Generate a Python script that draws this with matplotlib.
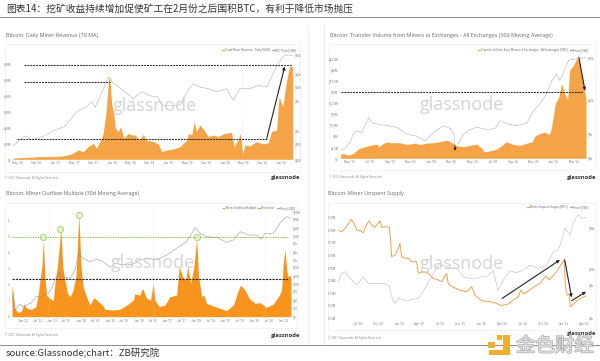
import matplotlib
matplotlib.use("Agg")
import matplotlib.pyplot as plt
import matplotlib.patheffects as pe
from matplotlib.lines import Line2D
from matplotlib.patches import Rectangle

# chart 1: months since May 2016, revenue in $M, price in USD
rev_months = [-0.85, 2, 4.8, 7.6, 9.8, 11.5, 12.9, 14, 15, 16.1, 16.8, 17.5, 18.2, 18.8, 19.3, 19.6, 20, 20.4, 20.8, 21.4, 21.9, 22.6, 23.5, 24.2, 24.9, 26, 26.7, 27.4, 28.8, 29.9, 30.6, 31.7, 33.1, 34.5, 35.9, 36.3, 37, 37.5, 38, 38.7, 39.6, 40.5, 41.6, 42.6, 44, 45.4, 46, 46.9, 47.3, 47.8, 48.3, 49.3, 50.7, 52.2, 53.2, 53.9, 55, 55.5, 56.3, 57, 57.7, 58.4]
rev_values = [0.8, 1.2, 1.7, 1.7, 2.1, 3.3, 5.8, 4.8, 7.9, 10, 6.9, 11, 16.2, 28.8, 47.5, 52.7, 35, 28.8, 19.4, 17.3, 20.4, 13.1, 16.2, 15.2, 15.2, 12, 15.6, 12, 11, 9.6, 4.8, 5.8, 6.5, 7.9, 12, 16.2, 15.2, 23.5, 17.3, 21.5, 18.3, 14.2, 15.2, 14.2, 16.2, 16.7, 7.9, 13.1, 16.2, 3.75, 9, 8.3, 11, 9.6, 10.4, 17.3, 18.3, 39.2, 32.9, 47.5, 57.9, 57.9]
rev_price_months = [-0.85, 0.2, 1.6, 3, 5.5, 8, 10.1, 12.6, 14.7, 15.8, 16.5, 17.9, 19.3, 20.4, 21.1, 22.8, 24.6, 26.4, 28.2, 29.9, 30.6, 32.4, 34.5, 35.9, 37.3, 38.7, 40.5, 42.3, 44.4, 45.4, 45.8, 47.2, 49.3, 51.1, 52.9, 53.9, 55.3, 56.7, 58.4]
rev_price = [450, 564, 761, 617, 736, 1040, 1250, 2730, 3550, 4600, 3440, 7330, 17000, 12000, 11000, 7770, 5470, 7770, 6270, 5900, 3900, 3700, 3900, 7330, 12000, 10000, 9200, 7770, 9200, 5900, 5000, 9200, 9200, 11000, 10000, 17000, 35000, 54000, 54000]
rev_levels = [59, 48, 12.5]
rev_level_starts = [1.4, 1.4, 0]
rev_level_ends = [58.2, 19.6, 52.9]
rev_arrow = [52.9, 13.1, 56.7, 57.9]
rev_ticks = [0, 4, 8, 12, 16, 20, 24, 28, 32, 36, 40, 44, 48, 52, 56]
rev_tick_labels = ["May '16", "Sep '16", "Jan '17", "May '17", "Sep '17", "Jan '18", "May '18", "Sep '18", "Jan '19", "May '19", "Sep '19", "Jan '20", "May '20", "Sep '20", "Jan '21"]
rev_yticks = [0, 10, 20, 30, 40, 50, 60]
rev_ylabels = ["$0", "$10M", "$20M", "$30M", "$40M", "$50M", "$60M"]
rev_pticks = [220, 500, 1000, 5000, 10000, 20000, 55000]
rev_plabels = ["$200", "$500", "$1k", "$5k", "$10k", "$20k", "$55k"]

# chart 2: months since May 2019, transfer volume in $M, price in USD
vol_months = [-0.85, -0.42, -0.1, 0.39, 0.88, 1.37, 2.03, 2.75, 2.88, 3.33, 3.92, 4.05, 4.97, 5.62, 6.44, 6.93, 7.58, 8.24, 9.05, 9.54, 10, 10.5, 11.2, 11.8, 12.5, 13, 13.2, 13.8, 14.4, 14.9, 15.4, 16.1, 16.7, 17.4, 17.9, 18.2, 18.7, 19.2, 19.6, 19.8, 20.2, 20.5, 20.8, 21.1, 21.4, 21.6, 22, 22.3, 22.5, 22.9, 23.2]
vol_values = [1, 1, 0.67, 1.1, 2.1, 2.5, 2.9, 3.2, 2.5, 3.4, 3.7, 3.5, 3.5, 3.1, 3.4, 3.1, 3.4, 3.5, 3.8, 4.1, 3.6, 2.8, 2.6, 2.9, 3.2, 2.2, 1.4, 1.7, 2, 2.8, 3.7, 3.1, 2.9, 3.4, 3.7, 5, 5.6, 5.9, 5.3, 6.7, 12.4, 13.5, 16.8, 14.6, 13.1, 19.8, 21, 22.5, 22.1, 17.6, 13.1]
vol_price_months = [-0.85, -0.42, 0.07, 0.39, 0.72, 1.2, 1.86, 2.35, 3, 3.82, 4.64, 5.62, 6.6, 7.42, 8.24, 9.2, 9.87, 10.26, 10.4, 10.7, 11.2, 11.8, 12.5, 13.5, 14.3, 14.8, 15.6, 16.4, 17.4, 18, 18.7, 19.3, 19.8, 20.3, 20.65, 21, 21.5, 22.3, 23.2]
vol_price = [5270, 5500, 6500, 8000, 8730, 8350, 12200, 10700, 10300, 10000, 9600, 8000, 7600, 6700, 8350, 10000, 9300, 8000, 4600, 6300, 8000, 9000, 9600, 9000, 9300, 11400, 10400, 10000, 10700, 14400, 18000, 23000, 32000, 39000, 33000, 41000, 56000, 58500, 60000]
vol_level = 15
vol_arrow = [22.5, 22.7, 23.1, 15.2]
vol_small_arrow = [10.36, 3, 10.36, 1.7]
vol_ticks = [0, 2, 4, 6, 8, 10, 12, 14, 16, 18, 20, 22]
vol_tick_labels = ["May '19", "Jul '19", "Sep '19", "Nov '19", "Jan '20", "Mar '20", "May '20", "Jul '20", "Sep '20", "Nov '20", "Jan '21", "Mar '21"]
vol_yticks = [0, 2.5, 5, 7.5, 10, 12.5, 15, 17.5, 20, 22.5]
vol_ylabels = ["$0", "$2.5M", "$5M", "$7.5M", "$10M", "$12.5M", "$15M", "$17.5M", "$20M", "$22.5M"]
vol_pticks = [4300, 8000, 20000, 60000]
vol_plabels = ["$4k", "$8k", "$20k", "$60k"]

# chart 3: months since Jan 2012, outflow multiple, price in USD
mom_months = [-4.4, -3.9, -3.2, -1.8, -0.4, 0.55, 1.7, 3.7, 5.5, 6.5, 7.2, 8, 8.6, 9.25, 9.9, 11.3, 12.7, 13.4, 14.4, 15.2, 15.9, 16.6, 17.5, 18.6, 19.6, 20.7, 22.1, 22.7, 23.3, 24.2, 25.1, 26.2, 27.9, 29.6, 31.4, 33.1, 34.1, 37.6, 40.3, 43.8, 45.9, 46.5, 48.6, 49.7, 51.4, 53, 54.1, 54.8, 56.6, 59, 61, 63.8, 64.9, 66.3, 67.7, 68.4, 69.6, 71, 72.1, 72.9, 74.2, 75.1, 76.2, 79, 81.8, 84.5, 87.3, 89.4, 90.3, 92.1, 93.9, 96.3, 98.3, 101, 103.9, 106.4, 107.3, 108, 108.7, 109.4, 110, 110.8, 111.2]
mom_values = [1.98, 1.46, 0.52, 0.25, 0.38, 0.79, 0.52, 0.46, 0.63, 1.46, 2.29, 3.13, 4.79, 2.5, 1.35, 1.15, 1, 2.08, 3.13, 4.38, 5.42, 3.13, 2.29, 1.46, 1.25, 1.56, 2.5, 4.38, 6.35, 3.13, 1.88, 1.35, 0.73, 1.21, 0.94, 0.73, 0.46, 0.42, 0.46, 0.79, 1.04, 1.42, 1.35, 1.77, 1.15, 1.04, 2.08, 1.04, 0.63, 0.73, 1.25, 1.35, 3.13, 2.5, 2.29, 3.17, 2.08, 3.13, 4.9, 2.5, 1.25, 1.35, 0.83, 0.67, 0.52, 0.38, 0.73, 1.67, 1.98, 1.67, 1.15, 0.83, 0.88, 0.58, 0.79, 1.35, 1.67, 3.33, 4.21, 2.92, 2.5, 2.6, 2.29]
mom_price_months = [-4.4, -3.2, -1.1, 0, 3.7, 5.5, 7.9, 10.6, 12, 13.4, 15.2, 16.9, 19.6, 21.7, 23.2, 25.1, 27.9, 30.7, 33.4, 36.2, 38.3, 41.7, 45.9, 48.6, 52.1, 55.5, 59.7, 63.8, 68, 71.5, 73.5, 76.2, 80.4, 84.5, 87.3, 90.1, 93.5, 97, 98.8, 100.4, 103.9, 106.6, 109.4, 111.2]
mom_price = [33, 7.7, 13.7, 10.7, 15.7, 28, 28, 38, 62, 138, 308, 190, 162, 360, 1770, 1090, 800, 1000, 800, 465, 690, 585, 640, 950, 1090, 950, 1500, 2880, 5470, 20800, 12100, 8800, 8200, 5100, 6400, 14200, 10300, 10300, 6800, 12100, 12100, 31600, 60000, 51000]
mom_level = 2.33
mom_threshold = 4.96
mom_circle_months = [8.6, 15.6, 23.3, 72.1]
mom_circle_values = [5, 5.5, 6.33, 5]
mom_halvings = [11, 54.1, 100.4]
mom_ticks = [0, 6, 12, 18, 24, 30, 36, 42, 48, 54, 60, 66, 72, 78, 84, 90, 96, 102, 108]
mom_tick_labels = ["Jan '12", "Jul '12", "Jan '13", "Jul '13", "Jan '14", "Jul '14", "Jan '15", "Jul '15", "Jan '16", "Jul '16", "Jan '17", "Jul '17", "Jan '18", "Jul '18", "Jan '19", "Jul '19", "Jan '20", "Jul '20", "Jan '21"]
mom_yticks = [0, 1, 2, 3, 4, 5, 6]
mom_ylabels = ["0", "1", "2", "3", "4", "5", "6"]
mom_pticks = [4.2, 10, 20, 50, 100, 200, 500, 1000, 2000, 5000, 10000, 20000, 50000, 100000]
mom_plabels = ["$4", "$10", "$20", "$50", "$100", "$200", "$500", "$1k", "$2k", "$5k", "$10k", "$20k", "$50k", "$100k"]

# chart 4: months since Jul 2018, unspent supply in M BTC, price in USD
sup_months = [-2.77, -2.28, -1.8, -1.31, -0.92, -0.58, -0.1, 0.39, 0.87, 1.21, 1.7, 2.09, 2.57, 3.3, 3.54, 4.03, 4.66, 4.85, 5, 5.49, 5.97, 6.21, 6.46, 6.94, 7.43, 7.91, 8.64, 8.88, 9.61, 10.34, 11.07, 11.8, 12.28, 13, 13.25, 13.98, 14.95, 15.92, 16.65, 17.14, 18.1, 19.32, 20.29, 21.02, 21.99, 22.72, 23.45, 23.79, 24.27, 25.63, 26.6, 27.43, 27.96, 29.03, 30.15, 30.29, 30.58, 30.87, 31.02, 31.7, 32.43, 33.25]
sup_values = [1.7797, 1.7789, 1.7815, 1.785, 1.7887, 1.7868, 1.7802, 1.7797, 1.7781, 1.7828, 1.7876, 1.7842, 1.7823, 1.7876, 1.7823, 1.7828, 1.7823, 1.7723, 1.759, 1.7603, 1.7656, 1.7696, 1.759, 1.7577, 1.7577, 1.755, 1.755, 1.7458, 1.7471, 1.7458, 1.7418, 1.7405, 1.7391, 1.7458, 1.7373, 1.7346, 1.7325, 1.7312, 1.7352, 1.7285, 1.724, 1.7232, 1.7219, 1.7201, 1.7214, 1.7246, 1.7272, 1.7325, 1.7293, 1.7346, 1.7378, 1.7436, 1.7405, 1.7471, 1.7569, 1.7352, 1.7285, 1.7293, 1.7193, 1.7225, 1.7259, 1.7277]
sup_price_months = [-2.77, -2.28, -1.8, -1.07, -0.1, 0.87, 1.6, 2.57, 4.03, 4.66, 5, 5.49, 5.97, 7.18, 8.88, 9.85, 10.83, 11.8, 12.52, 13.5, 14.47, 15.44, 16.4, 17.4, 18.1, 18.83, 19.8, 20.49, 21.26, 22.23, 23.2, 24.17, 25.15, 26.36, 27.57, 28.54, 29.27, 29.76, 30.24, 30.97, 31.46, 32.18, 32.67, 33.3]
sup_price = [6570, 8670, 9150, 7340, 5900, 7760, 6210, 6210, 6080, 5690, 3990, 3200, 3780, 3490, 3780, 5260, 7760, 11400, 11400, 10240, 10240, 7760, 7340, 7340, 7760, 7760, 9460, 4880, 6950, 9460, 8850, 9670, 11400, 10240, 11400, 17800, 18800, 26200, 38700, 31000, 48200, 60400, 53900, 55700]
sup_arrows = [[21.1, 1.7259, 29.5, 1.7564], [30.2, 1.7564, 31.2, 1.7267], [31.2, 1.7240, 33.3, 1.7312]]
sup_ticks = [0, 3, 6, 9, 12, 15, 18, 21, 24, 27, 30, 33]
sup_tick_labels = ["Jul '18", "Oct '18", "Jan '19", "Apr '19", "Jul '19", "Oct '19", "Jan '20", "Apr '20", "Jul '20", "Oct '20", "Jan '21", "Apr '21"]
sup_yticks = [1.71, 1.72, 1.73, 1.74, 1.75, 1.76, 1.77, 1.78, 1.79]
sup_ylabels = ["1.71M", "1.72M", "1.73M", "1.74M", "1.75M", "1.76M", "1.77M", "1.78M", "1.79M"]
sup_pticks = [2000, 6000, 10000, 40000]
sup_plabels = ["$2k", "$6k", "$10k", "$40k"]

W, H = 600, 361
ORANGE = "#F5A347"
DEEP_ORANGE = "#F7941D"
GREY = "#A6A6A6"
plt.rcParams["font.family"] = ["Noto Sans CJK SC", "DejaVu Sans"]

fig = plt.figure(figsize=(W / 100, H / 100), dpi=100, facecolor="white")


def frac(x, y):
    return x / W, 1 - y / H


def hline(x0, x1, y, color, lw):
    fig.add_artist(Line2D([x0 / W, x1 / W], [1 - y / H, 1 - y / H], color=color, lw=lw))


def vline(x, y0, y1, color, lw):
    fig.add_artist(Line2D([x / W, x / W], [1 - y0 / H, 1 - y1 / H], color=color, lw=lw))


def box(x0, y0, x1, y1, **kw):
    fig.add_artist(Rectangle((x0 / W, 1 - y1 / H), (x1 - x0) / W, (y1 - y0) / H, transform=fig.transFigure, **kw))


def make_panel(frame, rect, title, xlim, ylim, plim, ticks, tick_labels, yticks, ylabels, pticks, plabels):
    box(frame[0], frame[1], frame[2], frame[3], facecolor="white", edgecolor="#EFEFEF", lw=0.5, zorder=-1)
    fig.text(*frac(frame[0] + 0.5, frame[1] - 9), title, fontsize=3.9, color="#666666", family="Open Sans", va="center")
    x0, y0, x1, y1 = rect
    ax = fig.add_axes([x0 / W, 1 - y1 / H, (x1 - x0) / W, (y1 - y0) / H], facecolor="none")
    ax.set_xlim(xlim)
    ax.set_ylim(ylim)
    ax.set_xticks(ticks, tick_labels)
    ax.set_yticks(yticks, ylabels)
    ax.tick_params(length=0, pad=1.5, labelsize=2.2, labelcolor="#777777")
    for s in ax.spines.values():
        s.set_visible(False)
    ax2 = ax.twinx()
    ax2.set_yscale("log")
    ax2.set_ylim(plim)
    ax2.set_yticks(pticks, plabels)
    ax2.minorticks_off()
    ax2.tick_params(length=0, pad=1.5, labelsize=2.2, labelcolor="#777777")
    for s in ax2.spines.values():
        s.set_visible(False)
    return ax, ax2


def watermark(x, y):
    fig.text(*frac(x, y), "glassnode", fontsize=13, color="#C9C9C9", alpha=0.8, family="Open Sans", ha="center", va="center", zorder=20)


def footer(x0, x1, y, logo_y=None):
    fig.text(*frac(x0, y), "© 2021 Glassnode. All Rights Reserved.", fontsize=2.2, color="#888888", family="Open Sans", va="center")
    fig.text(*frac(x1, logo_y or y), "glassnode", fontsize=4.2, color="#333333", family="Open Sans", weight="bold", ha="right", va="center")


def legend(x, y, items):
    handles = [Line2D([], [], color=c, lw=0.9) for c, _ in items]
    fig.legend(handles, [t for _, t in items], loc="upper right", bbox_to_anchor=frac(x, y), ncol=len(items),
               fontsize=2.1, frameon=False, handlelength=0.6, columnspacing=0.8, handletextpad=0.4, borderpad=0, labelcolor="#666666")


def arrow(ax, a, lw=0.8):
    ax.annotate("", xy=(a[2], a[3]), xytext=(a[0], a[1]),
                arrowprops=dict(arrowstyle="-|>", color="#222222", lw=lw, mutation_scale=4, shrinkA=0, shrinkB=0), zorder=12)


# header and footer rules
fig.text(*frac(6, 9), "图表14：挖矿收益持续增加促使矿工在2月份之后围积BTC，有利于降低市场抛压", fontsize=7, color="#333333", va="center")
hline(0, 600, 17, "#8E8E8E", 0.7)
vline(308, 25, 345, "#EEEEEE", 0.6)
vline(324, 25, 345, "#E6E6E6", 0.6)

# chart 1
ax, ax2 = make_panel((5, 44, 300, 172), (13.3, 50, 292.7, 159.3), "Bitcoin: Daily Miner Revenue (7d MA)",
                     (-0.85, 58.4), (0, 68.3), (223, 71000), rev_ticks, rev_tick_labels, rev_yticks, rev_ylabels, rev_pticks, rev_plabels)
ax.axvline(47.6, color="#D8D8D8", lw=0.4, ls=":")
ax.fill_between(rev_months, rev_values, 0, color=ORANGE, lw=0)
ax2.plot(rev_price_months, rev_price, color=GREY, lw=0.35)
ax.set_zorder(ax2.get_zorder() + 1)
for lvl, a, b in zip(rev_levels, rev_level_starts, rev_level_ends):
    ax.plot([a, b], [lvl, lvl], color="#222222", lw=0.7, ls=(0, (2, 1)), zorder=10)
arrow(ax, rev_arrow)
legend(298, 47, [(ORANGE, "Total Miner Revenue - Daily [USD]"), (GREY, "BTC Price [USD]")])
watermark(155, 106)
footer(5, 300, 178)

# chart 2
ax, ax2 = make_panel((329, 44, 596, 170), (340.7, 53.3, 586, 158.3), "Bitcoin: Transfer Volume from Miners to Exchanges - All Exchanges (30d Moving Average)",
                     (-0.85, 23.2), (0, 23.6), (4230, 67500), vol_ticks, vol_tick_labels, vol_yticks, vol_ylabels, vol_pticks, vol_plabels)
ax.fill_between(vol_months, vol_values, 0, color=ORANGE, lw=0)
ax2.plot(vol_price_months, vol_price, color=GREY, lw=0.35)
ax.set_zorder(ax2.get_zorder() + 1)
ax.plot([-0.85, 22.9], [vol_level, vol_level], color="#222222", lw=0.7, ls=(0, (2, 1)), zorder=10)
arrow(ax, vol_arrow)
arrow(ax, vol_small_arrow, lw=0.5)
legend(590, 47, [(ORANGE, "Transfer Volume from Miners to Exchanges - All Exchanges [USD]"), (GREY, "Price [USD]")])
watermark(462, 105)
footer(329, 596, 177)

# chart 3
ax, ax2 = make_panel((5, 203, 297, 328), (12, 208.3, 291, 316.7), "Bitcoin: Miner Outflow Multiple (30d Moving Average)",
                     (-4.4, 111.2), (0, 6.77), (4.1, 133000), mom_ticks, mom_tick_labels, mom_yticks, mom_ylabels, mom_pticks, mom_plabels)
for m in mom_halvings:
    ax.axvline(m, color="#D8D8D8", lw=0.4, ls=":")
ax.fill_between(mom_months, mom_values, 0, color=DEEP_ORANGE, lw=0)
ax2.plot(mom_price_months, mom_price, color="#8A8A8A", lw=0.35)
ax.plot([-4.4, 110], [mom_level, mom_level], color="#222222", lw=0.8, ls=(0, (2, 1)), zorder=10)
ax.plot([-4.4, 110], [mom_threshold, mom_threshold], color="#8DBF3F", lw=0.6, ls=(0, (2, 1)), zorder=10)
ax.scatter(mom_circle_months, mom_circle_values, s=20, facecolor="#DDF0C0", edgecolor="#7DB52F", linewidth=0.5, alpha=0.75, zorder=11)
legend(297, 205, [(DEEP_ORANGE, "Miner Outflow Multiple"), ("#8DBF3F", "Threshold"), (GREY, "Price [USD]")])
watermark(153, 263)
footer(5, 300, 335)

# chart 4
ax, ax2 = make_panel((328, 203, 596, 330), (338.3, 210, 586.7, 320), "Bitcoin: Miner Unspent Supply",
                     (-2.77, 33.4), (1.7087, 1.7961), (1840, 71000), sup_ticks, sup_tick_labels, sup_yticks, sup_ylabels, sup_pticks, sup_plabels)
ax2.plot(sup_price_months, sup_price, color="#B0B0B0", lw=0.35)
ax.plot(sup_months, sup_values, color="#EEA14A", lw=0.7, zorder=5)
ax.set_zorder(ax2.get_zorder() + 1)
for a in sup_arrows:
    arrow(ax, a)
legend(590, 204, [(ORANGE, "Miner Unspent Supply [BTC]"), (GREY, "Price [USD]")])
watermark(462, 264)
footer(328, 596, 338, logo_y=334)

# bottom note and site logo
hline(0, 600, 345, "#8E8E8E", 0.7)
fig.text(*frac(6, 353), "source:Glassnode;chart：ZB研究院", fontsize=6.8, color="#333333", va="center")
LOGO = "#EFAE2E"
box(488, 342, 495, 348, facecolor=LOGO, lw=0, zorder=30)
box(497, 334.5, 502, 340, facecolor=LOGO, lw=0, zorder=30)
box(503, 334.5, 509.5, 355, facecolor=LOGO, lw=0, zorder=30)
box(489, 350, 509.5, 355, facecolor=LOGO, lw=0, zorder=30)
t = fig.text(*frac(555, 346), "金色财经", fontsize=14, color="#E4E4E4", ha="center", va="center", zorder=30)
t.set_path_effects([pe.withStroke(linewidth=1.0, foreground="#A9A9A9")])

fig.savefig("out.png", dpi=100)
